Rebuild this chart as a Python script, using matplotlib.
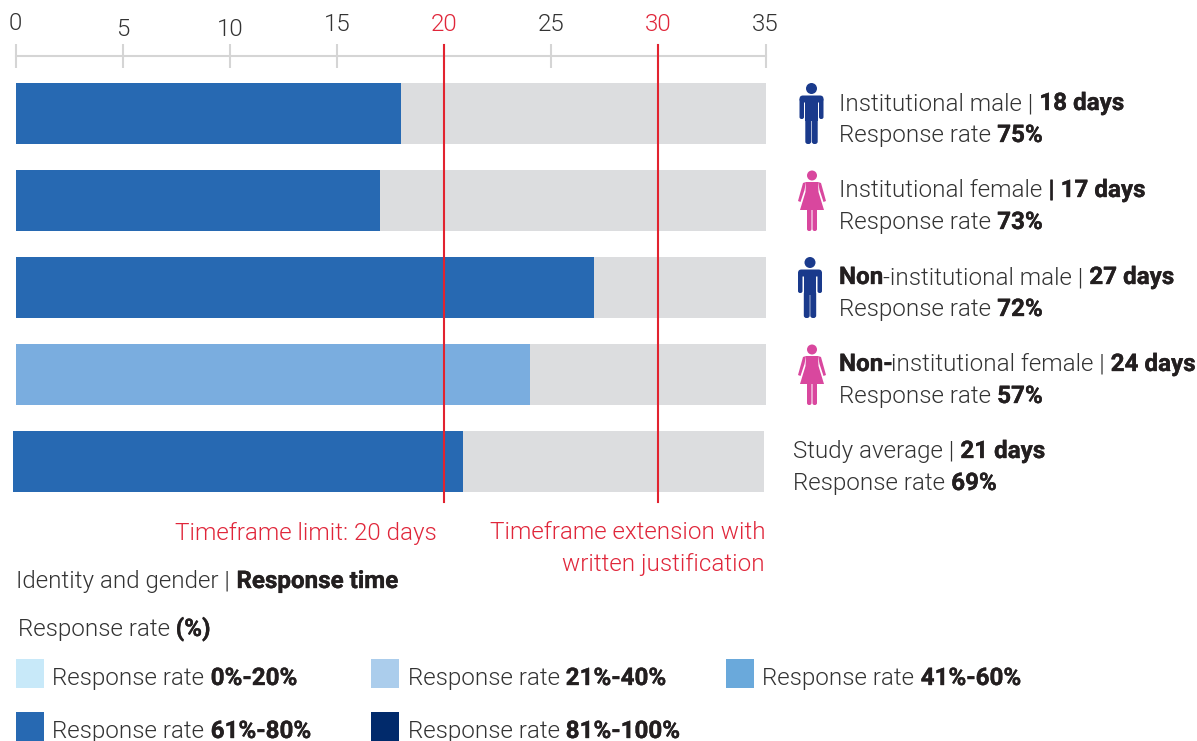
import matplotlib
matplotlib.use("Agg")
import matplotlib.pyplot as plt
import matplotlib.patheffects as pe
from matplotlib.patches import Circle, FancyBboxPatch, Polygon, Rectangle

# data
names = [
    [("Institutional male | ", 0), ("18 days", 1)],
    [("Institutional female ", 0), ("| 17 days", 1)],
    [("Non", 1), ("-institutional male | ", 0), ("27 days", 1)],
    [("Non-", 1), ("institutional female | ", 0), ("24 days", 1)],
    [("Study average | ", 0), ("21 days", 1)],
]
days = [18, 17, 27, 24, 21]
rates = [75, 73, 72, 57, 69]
bar_colors = ["#2769b2", "#2769b2", "#2769b2", "#7aaddf", "#2769b2"]
bar_offset = [0, 0, 0, 0, -0.11]
icons = ["m", "f", "m", "f", None]
xticks = [0, 5, 10, 15, 20, 25, 30, 35]
tick_pads = [6.4, 2.2, 2.2, 6.0, 6.0, 6.0, 6.0, 6.0]
limit_days = [20, 30]
legend_labels = ["0%-20%", "21%-40%", "41%-60%", "61%-80%", "81%-100%"]
legend_colors = ["#c8e9f9", "#abcdec", "#6aa9db", "#2769b2", "#012a6b"]

W, H = 1197, 741
TEXT = "#333333"
RED = "#e0263a"
FS = 17.4
plt.rcParams["font.family"] = ["Roboto", "DejaVu Sans"]

fig = plt.figure(figsize=(W / 100, H / 100), dpi=100)

# overlay in pixel coordinates for the text blocks, icons and legend
ov = fig.add_axes([0, 0, 1, 1])
ov.set_xlim(0, W)
ov.set_ylim(H, 0)
ov.axis("off")

ax = fig.add_axes([15.6 / W, 1 - 502 / H, 750 / W, 446 / H])
ax.patch.set_alpha(0)
ax.set_xlim(0, 35)
ax.set_ylim((502 - 113.5) / 87, (56 - 113.5) / 87)
for i in range(len(days)):
    ax.barh(i, 35.03, left=bar_offset[i], height=0.705, color="#dcdddf", clip_on=False, zorder=1)
    ax.barh(i, days[i], left=bar_offset[i], height=0.705, color=bar_colors[i], clip_on=False, zorder=2)
for d in limit_days:
    ax.axvline(d, ymin=0, ymax=1 + 11 / 446, color="#e2232f", lw=1.5, clip_on=False, zorder=3)

for s in ["left", "right", "bottom"]:
    ax.spines[s].set_visible(False)
ax.spines["top"].set_color("#d5d5d5")
ax.spines["top"].set_linewidth(1.5)
ax.set_yticks([])
ax.xaxis.tick_top()
ax.set_xticks(xticks)
ax.tick_params(axis="x", direction="inout", length=17, width=1.5, color="#d5d5d5")
ax.set_xticklabels([str(t) for t in xticks], fontsize=FS, fontweight=300, color=TEXT)
for t, tick, pad in zip(xticks, ax.xaxis.get_major_ticks(), tick_pads):
    tick.set_pad(pad)
    if t in limit_days:
        tick.label2.set_color(RED)

renderer = fig.canvas.get_renderer()
heavy = [pe.withStroke(linewidth=0.25, foreground="#231f20")]


def rich(x, y, parts):
    # one line with mixed weights, pieces placed one after the other
    for s, b in parts:
        lead = len(s) - len(s.lstrip())
        trail = len(s) - len(s.rstrip())
        t = ov.text(x + lead * 6.2, y, s.strip(), fontsize=FS, color="#231f20" if b else TEXT,
                    fontweight="bold" if b else 300, va="baseline", ha="left")
        if b:
            t.set_path_effects(heavy)
        x += t.get_window_extent(renderer).width + (lead + trail) * 6.2
        if s.endswith("-"):
            x -= 1.5
    return x


def rounded(x, y, w, h, r, col):
    ov.add_patch(FancyBboxPatch((x, y), w, h, boxstyle=f"round,pad=0,rounding_size={r}", color=col, lw=0))


def person(kind, cx, top):
    if kind == "m":
        col = "#1a3a8c"
        ov.add_patch(Circle((cx, top + 5.5), 5.5, color=col, lw=0))
        rounded(cx - 12, top + 12.5, 24, 7, 3.5, col)
        ov.add_patch(Rectangle((cx - 6.2, top + 16), 12.4, 22, color=col, lw=0))
        rounded(cx - 12, top + 15, 4.5, 21, 2, col)
        rounded(cx + 7.5, top + 15, 4.5, 21, 2, col)
        rounded(cx - 6.2, top + 34, 5.9, 27, 2.5, col)
        rounded(cx + 0.3, top + 34, 5.9, 27, 2.5, col)
    else:
        col = "#d9479e"
        ov.add_patch(Circle((cx, top + 5.5), 5, color=col, lw=0))
        ov.add_patch(Polygon([(cx - 6, top + 12), (cx + 6, top + 12), (cx + 6.5, top + 22), (cx + 12, top + 40),
                              (cx - 12, top + 40), (cx - 6.5, top + 22)], color=col, lw=0))
        ov.add_patch(Polygon([(cx - 6, top + 12), (cx - 9, top + 13), (cx - 14, top + 31), (cx - 11.5, top + 32), (cx - 7.5, top + 20)], color=col, lw=0))
        ov.add_patch(Polygon([(cx + 6, top + 12), (cx + 9, top + 13), (cx + 14, top + 31), (cx + 11.5, top + 32), (cx + 7.5, top + 20)], color=col, lw=0))
        rounded(cx - 5, top + 38, 4.5, 23, 2, col)
        rounded(cx + 0.5, top + 38, 4.5, 23, 2, col)


icon_x = [811.5, 812, 810, 812]
for i in range(len(days)):
    tx = 793 if icons[i] is None else 839
    rich(tx, 110 + 87 * i, names[i])
    rich(tx, 142 + 87 * i, [("Response rate ", 0), (f"{rates[i]}%", 1)])
    if icons[i]:
        person(icons[i], icon_x[i], 83 + 87 * i)

ov.text(437, 540, "Timeframe limit: 20 days", fontsize=FS, fontweight=300, color=RED, ha="right", va="baseline")
ov.text(765, 539, "Timeframe extension with", fontsize=FS, fontweight=300, color=RED, ha="right", va="baseline")
ov.text(765, 571, "written justification", fontsize=FS, fontweight=300, color=RED, ha="right", va="baseline")

rich(16.5, 588, [("Identity and gender | ", 0), ("Response time", 1)])
rich(17.5, 636, [("Response rate ", 0), ("(%)", 1)])

leg_x = [16, 371, 726, 16, 371]
leg_y = [659, 659, 659, 712, 712]
for x, y, lab, c in zip(leg_x, leg_y, legend_labels, legend_colors):
    ov.add_patch(Rectangle((x, y), 28, 29, color=c, lw=0))
    rich(x + 36.5, y + 26, [("Response rate ", 0), (lab, 1)])

fig.savefig("out.png", dpi=100)
